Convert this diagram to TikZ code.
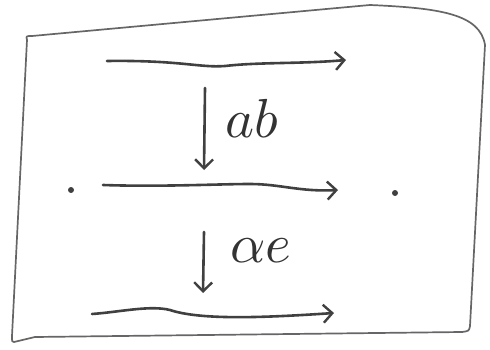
\documentclass[tikz,border=0pt]{standalone}
\usetikzlibrary{arrows.meta}
\begin{document}
\begin{tikzpicture}[x=1pt,y=-1pt,
  ink/.style={draw=black!75,line width=2.6pt,line cap=round,line join=round},
  frame/.style={draw=black!60,line width=1.7pt,line join=round},
  arr/.style={ink,-{Straight Barb[length=9pt,width=18pt,line width=2.4pt]}},
  dotpt/.style={circle,fill=black!75,inner sep=0pt,minimum size=6pt},
  lab/.style={scale=5.5,transform shape,inner sep=0pt,anchor=base west,text=black!80}]
\useasboundingbox (0,0) rectangle (490,350);
% frame
\draw[frame] (27,40) .. controls (26,36) .. (32,36) -- (370,5)
  .. controls (440,8) and (480,14) .. (485,45) -- (470,326)
  .. controls (469,331) .. (462,332) -- (35,337) -- (14,342)
  .. controls (12,342) .. (12,336) -- (27,40);
% objects
\node[dotpt] (l) at (71,190) {};
\node[dotpt] (r) at (395,193) {};
% horizontal arrows
\coordinate (t1) at (107,61);
\coordinate (t2) at (346,60);
\coordinate (m1) at (103,185);
\coordinate (m2) at (338,190);
\coordinate (b1) at (92,314);
\coordinate (b2) at (334,313);
\draw[arr] (t1) .. controls (180,60) and (200,68) .. (225,66) .. controls (260,62) and (300,64) .. (t2);
\draw[arr] (m1) .. controls (160,187) and (220,184) .. (250,184) .. controls (280,184) and (300,192) .. (m2);
\draw[arr] (b1) .. controls (120,312) and (150,305) .. (170,310) .. controls (200,320) and (260,318) .. (b2);
% vertical arrows
\coordinate (v1a) at (205,88);
\coordinate (v1b) at (204,170);
\coordinate (v2a) at (204,232);
\coordinate (v2b) at (203,293);
\draw[arr] (v1a) -- (v1b);
\draw[arr] (v2a) -- (v2b);
\node[lab] (ab) at (224,138) {$ab$};
\node[lab] (ae) at (229,262) {$\alpha e$};
\end{tikzpicture}
\end{document}
